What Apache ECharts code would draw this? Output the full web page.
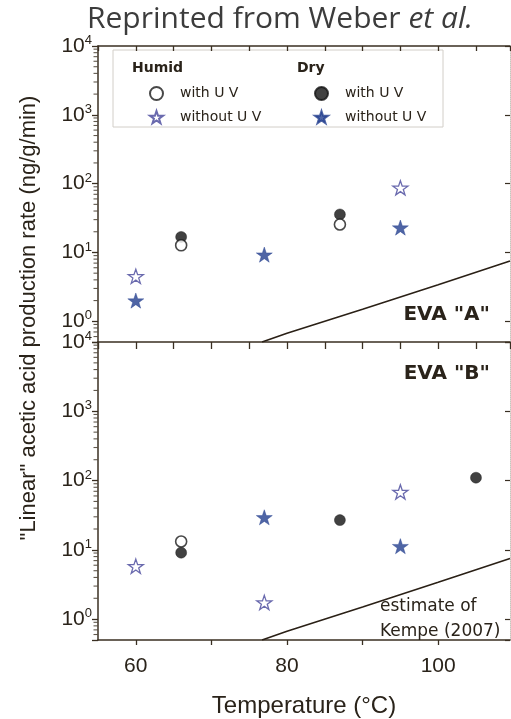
<!DOCTYPE html>
<html><head><meta charset="utf-8">
<script src="https://cdn.jsdelivr.net/npm/echarts@6/dist/echarts.min.js"></script>
<style>html,body{margin:0;padding:0;background:#fff}#c{width:511px;height:719px}</style>
</head><body><div id="c"></div>
<script>
// ---- data ----
const xMin = 55, xMax = 109.5, xStep = 5;
const yMin = 0.5, yMax = 10000;
const xTicksBottom = [60, 70, 80, 90, 100];
const xLabels = [60, 80, 100];
const yMinor = [0.6, 0.7, 0.8, 0.9, 2, 3, 4, 5, 6, 7, 8, 9, 20, 30, 40, 50, 60, 70, 80, 90,
  200, 300, 400, 500, 600, 700, 800, 900, 2000, 3000, 4000, 5000, 6000, 7000, 8000, 9000];

// EVA "A"
const A_humidUV   = [[66, 12.7], [87, 25.5]];
const A_humidNoUV = [[60, 4.5], [95, 87]];
const A_dryUV     = [[66, 16.8], [87, 35.7]];
const A_dryNoUV   = [[60, 2.0], [77, 9.3], [95, 23]];
// EVA "B"
const B_humidUV   = [[66, 13.2]];
const B_humidNoUV = [[60, 5.8], [77, 1.74], [95, 68.6]];
const B_dryUV     = [[66, 9.1], [87, 26.9], [105, 110]];
const B_dryNoUV   = [[77, 29.5], [95, 11.3]];
// estimate of Kempe (2007)
const kempeT    = [76.7, 80, 90, 100, 109.5];
const kempeRate = [0.5, 0.67, 1.5, 3.4, 7.5];

// ---- styling ----
const axisColor = '#3a2f22';
const textColor = '#2a231a';
const starPath = 'path://M50,0 L61.8,35.1 L98.1,35.1 L68.8,56.7 L79.4,91 L50,70 L20.6,91 L31.2,56.7 L1.9,35.1 L38.2,35.1 Z';
const navy = '#233f8e';
const font = 'Liberation Sans, Arial, sans-serif';

const chart = echarts.init(document.getElementById('c'), null, {renderer: 'canvas'});

const gridTop = [46, 342];
const gridH = [296, 299];

function yLabel(v) {
  if (v < 0.9) return '';
  const e = Math.round(Math.log10(v));
  return '{b|10}{s|' + e + '}';
}

function mainY(grid) {
  return {
    type: 'log', logBase: 10, gridIndex: grid, min: yMin, max: yMax, position: 'left',
    axisLine: {show: true, lineStyle: {color: axisColor, width: 1.5}},
    axisTick: {show: true, inside: false, length: 6, lineStyle: {color: axisColor, width: 1.3}},
    axisLabel: {show: true, margin: 6, formatter: yLabel,
      rich: {b: {fontSize: 21, fontFamily: font, color: textColor},
             s: {fontSize: 13, fontFamily: font, color: textColor, padding: [0, 0, 11, 0]}}},
    splitLine: {show: false}
  };
}
function rightY(grid) {
  return {
    type: 'log', logBase: 10, gridIndex: grid, min: yMin, max: yMax, position: 'right',
    axisLine: {show: true, lineStyle: {color: '#c9c4bc', width: 1, type: 'dotted'}},
    axisTick: {show: true, inside: true, length: 5, lineStyle: {color: axisColor, width: 1.2}},
    axisLabel: {show: false}, splitLine: {show: false}
  };
}

function scatterSet(grid, humidUV, humidNoUV, dryUV, dryNoUV) {
  const xi = grid === 0 ? 0 : 2;
  const yi = grid === 0 ? 0 : 2;
  const base = {type: 'scatter', xAxisIndex: xi, yAxisIndex: yi, symbolKeepAspect: true, z: 3};
  const order = grid === 0 ? ['dry', 'humid'] : ['humid', 'dry'];
  const s = {
    humid: [
      Object.assign({}, base, {name: 'Humid with UV', data: humidUV, symbol: 'circle', symbolSize: 11,
        itemStyle: {color: '#fff', borderColor: '#1a1a1a', borderWidth: 1.6}}),
      Object.assign({}, base, {name: 'Humid without UV', data: humidNoUV, symbol: starPath, symbolSize: 15,
        itemStyle: {color: '#fff', borderColor: '#45459a', borderWidth: 1.3}})
    ],
    dry: [
      Object.assign({}, base, {name: 'Dry with UV', data: dryUV, symbol: 'circle', symbolSize: 11,
        itemStyle: {color: '#111', borderColor: '#111', borderWidth: 0.5}}),
      Object.assign({}, base, {name: 'Dry without UV', data: dryNoUV, symbol: starPath, symbolSize: 16,
        itemStyle: {color: navy, borderColor: navy, borderWidth: 0.5}})
    ]
  };
  return s[order[0]].concat(s[order[1]]);
}

// minor log ticks on the left axis, placed through the axes' own scales
function minorTicks(grid) {
  return {
    type: 'scatter', name: 'minorTicks', xAxisIndex: grid === 0 ? 0 : 2, yAxisIndex: grid === 0 ? 0 : 2,
    data: yMinor.map(v => [xMin, v]), symbol: 'rect', symbolSize: [4, 1.1], symbolOffset: [-2.5, 0],
    itemStyle: {color: axisColor}, silent: true, clip: false, z: 4, legendHoverLink: false
  };
}

function kempeLine(grid) {
  return {
    type: 'line', name: 'Kempe', xAxisIndex: grid === 0 ? 0 : 2, yAxisIndex: grid === 0 ? 0 : 2,
    data: kempeT.map((t, i) => [t, kempeRate[i]]), showSymbol: false, symbol: 'none',
    lineStyle: {color: '#2a2016', width: 1.6}, silent: true, z: 1
  };
}

const legendFmt = {
  'Humid with UV': 'with U V', 'Humid without UV': 'without U V',
  'Dry with UV': 'with U V', 'Dry without UV': 'without U V'
};
function legend(left, names) {
  return {
    left: left, top: 86, orient: 'vertical', data: names, itemWidth: 13, itemHeight: 13, itemGap: 9,
    selectedMode: false, formatter: n => legendFmt[n], padding: 0,
    textStyle: {fontSize: 14, fontFamily: 'DejaVu Sans, sans-serif', color: textColor, padding: [0, 0, 0, 12], lineHeight: 13}
  };
}

function xAxisDef(grid, pos, opts) {
  return Object.assign({
    type: 'value', gridIndex: grid, min: xMin, max: xMax, interval: xStep, position: pos,
    axisLine: {show: true, lineStyle: {color: axisColor, width: 1.5}},
    axisLabel: {show: false}, splitLine: {show: false}
  }, opts);
}

const option = {
  animation: false,
  backgroundColor: '#fff',
  title: {
    text: '{n|Reprinted from Weber }{i|et al.}', left: 82, top: -1,
    textStyle: {fontWeight: 'normal', rich: {
      n: {fontSize: 30, fontWeight: 'normal', fontFamily: 'Open Sans, sans-serif', color: '#3c3c3c'},
      i: {fontSize: 30, fontWeight: 'normal', fontFamily: 'Open Sans, sans-serif', fontStyle: 'italic', color: '#3c3c3c'}}}
  },
  grid: [
    {left: 98, top: gridTop[0], width: 412, height: gridH[0]},
    {left: 98, top: gridTop[1], width: 412, height: gridH[1]}
  ],
  xAxis: [
    xAxisDef(0, 'bottom', {axisTick: {show: true, inside: false, length: 7, lineStyle: {color: axisColor, width: 1.3}}}),
    xAxisDef(0, 'top', {axisTick: {show: true, inside: true, length: 5, lineStyle: {color: axisColor, width: 1.3}}}),
    xAxisDef(1, 'bottom', {
      axisTick: {show: true, inside: false, length: 5, customValues: xTicksBottom, lineStyle: {color: axisColor, width: 1.3}},
      axisLabel: {show: true, customValues: xLabels, margin: 16, fontSize: 21, fontFamily: font, color: textColor},
      name: 'Temperature (°C)', nameLocation: 'middle', nameGap: 54,
      nameTextStyle: {fontSize: 24, fontFamily: font, color: textColor}
    })
  ],
  yAxis: [mainY(0), rightY(0), mainY(1), rightY(1)],
  legend: [
    legend(149, ['Humid with UV', 'Humid without UV']),
    legend(314, ['Dry with UV', 'Dry without UV'])
  ],
  graphic: [
    {type: 'rect', shape: {x: 113, y: 50, width: 330, height: 77}, z: 0,
      style: {fill: '#fff', stroke: '#d2cec8', lineWidth: 1}},
    {type: 'text', x: 132, y: 68, z: 10, style: {text: 'Humid', fontSize: 14, fontWeight: 'bold', fontFamily: 'DejaVu Sans, sans-serif', fill: textColor, verticalAlign: 'middle'}},
    {type: 'text', x: 297, y: 68, z: 10, style: {text: 'Dry', fontSize: 14, fontWeight: 'bold', fontFamily: 'DejaVu Sans, sans-serif', fill: textColor, verticalAlign: 'middle'}},
    {type: 'text', x: 490, y: 315, z: 10, style: {text: 'EVA "A"', fontSize: 20, fontWeight: 'bold', fontFamily: 'DejaVu Sans, sans-serif', fill: textColor, align: 'right', verticalAlign: 'middle'}},
    {type: 'text', x: 490, y: 374, z: 10, style: {text: 'EVA "B"', fontSize: 20, fontWeight: 'bold', fontFamily: 'DejaVu Sans, sans-serif', fill: textColor, align: 'right', verticalAlign: 'middle'}},
    {type: 'text', x: 380, y: 607, z: 10, style: {text: 'estimate of', fontSize: 17, fontFamily: 'DejaVu Sans, sans-serif', fill: textColor, verticalAlign: 'middle'}},
    {type: 'text', x: 380, y: 632, z: 10, style: {text: 'Kempe (2007)', fontSize: 17, fontFamily: 'DejaVu Sans, sans-serif', fill: textColor, verticalAlign: 'middle'}},
    {type: 'text', x: 29, y: 318, rotation: Math.PI / 2, z: 10,
      style: {text: '"Linear" acetic acid production rate (ng/g/min)', fontSize: 22, fontFamily: font, fill: textColor, align: 'center', verticalAlign: 'middle'}}
  ],
  series: [kempeLine(0), kempeLine(1), minorTicks(0), minorTicks(1)]
    .concat(scatterSet(0, A_humidUV, A_humidNoUV, A_dryUV, A_dryNoUV))
    .concat(scatterSet(1, B_humidUV, B_humidNoUV, B_dryUV, B_dryNoUV))
};
chart.setOption(option);
</script></body></html>
